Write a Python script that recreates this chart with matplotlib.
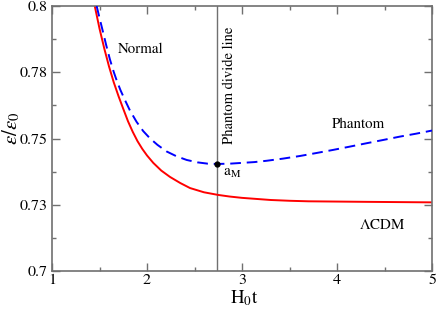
import matplotlib
matplotlib.use("Agg")
import matplotlib.pyplot as plt
from matplotlib.ticker import FixedLocator, MultipleLocator

# ---- data ----
lcdm_x = [1.45, 1.50, 1.55, 1.60, 1.65, 1.70, 1.75, 1.80, 1.85, 1.90, 1.95, 2.00,
          2.066, 2.15, 2.242, 2.35, 2.453, 2.60, 2.75, 2.87, 3.00, 3.15, 3.30,
          3.50, 3.70, 4.00, 4.30, 4.65, 5.00]
lcdm_y = [0.8000, 0.7915, 0.7840, 0.7772, 0.7712, 0.7660, 0.7612, 0.7565, 0.7525,
          0.7490, 0.7461, 0.7436, 0.7408, 0.7379, 0.7355, 0.7332, 0.7313, 0.7297,
          0.7287, 0.7281, 0.7276, 0.7272, 0.7268, 0.7265, 0.7263, 0.7262, 0.7261,
          0.7260, 0.7259]

model_x = [1.47, 1.50, 1.53, 1.57, 1.61, 1.65, 1.68, 1.72, 1.768, 1.82, 1.89, 1.96,
           2.03, 2.11, 2.207, 2.31, 2.418, 2.53, 2.64, 2.74, 2.87, 3.00, 3.13, 3.26,
           3.43, 3.61, 3.78, 3.96, 4.13, 4.31, 4.48, 4.66, 4.83, 5.00]
model_y = [0.8000, 0.7955, 0.7912, 0.7853, 0.7798, 0.7751, 0.7720, 0.7683, 0.7645,
           0.7606, 0.7563, 0.7528, 0.7501, 0.7476, 0.7451, 0.7433, 0.7419, 0.7410,
           0.7405, 0.7404, 0.7405, 0.7408, 0.7411, 0.7416, 0.7424, 0.7434, 0.7445,
           0.7457, 0.7469, 0.7482, 0.7494, 0.7507, 0.7518, 0.7530]

divide_x = 2.74
a_M = (2.74, 0.7404)

y_ticks = [0.7, 0.725, 0.75, 0.775, 0.8]
y_ticklabels = ["0.7", "0.73", "0.75", "0.78", "0.8"]
x_ticks = [1, 2, 3, 4, 5]
x_ticklabels = ["1", "2", "3", "4", "5"]

plt.rcParams['font.family'] = ['STIXGeneral', 'DejaVu Serif']
plt.rcParams['mathtext.fontset'] = 'stix'

fig = plt.figure(figsize=(4.36, 3.09), dpi=100)
ax = fig.add_axes([52/436, 38/309, 380/436, 265/309])

frame_col = '#707070'
ax.axvline(divide_x, color=frame_col, lw=1.0, zorder=1)
ax.plot(lcdm_x, lcdm_y, color='#ff0000', lw=1.4, zorder=2)
ax.plot(model_x, model_y, color='#0000ff', lw=1.4, dashes=(5.5, 3), zorder=3)
ax.plot([a_M[0]], [a_M[1]], 'o', color='black', ms=3.5, zorder=4)

ax.set_xlim(1, 5)
ax.set_ylim(0.7, 0.8)
ax.xaxis.set_major_locator(FixedLocator(x_ticks))
ax.set_xticklabels(x_ticklabels)
ax.xaxis.set_minor_locator(MultipleLocator(0.5))
ax.yaxis.set_major_locator(FixedLocator(y_ticks))
ax.set_yticklabels(y_ticklabels)
ax.yaxis.set_minor_locator(MultipleLocator(0.0125))

ax.tick_params(which='both', direction='in', top=True, right=True,
               color=frame_col, width=1.0, labelsize=11.5, labelcolor='black')
ax.tick_params(which='major', length=6, pad=3)
ax.tick_params(axis='x', which='major', pad=2)
ax.tick_params(which='minor', length=3)
for s in ax.spines.values():
    s.set_color(frame_col)
    s.set_linewidth(1.2)

ax.set_xlabel(r'H$_0$t', fontsize=13.5)
ax.xaxis.set_label_coords(0.505, -0.066)
ax.set_ylabel(r'$\varepsilon/\varepsilon_0$', fontsize=15)
ax.yaxis.set_label_coords(-0.078, 0.54)

ax.text(1.93, 0.7838, 'Normal', fontsize=10.8, ha='center', va='center')
ax.text(4.23, 0.7555, 'Phantom', fontsize=10.8, ha='center', va='center')
ax.text(4.48, 0.7174, r'$\Lambda$CDM', fontsize=10.8, ha='center', va='center')
ax.text(2.8, 0.7368, r'a$_\mathrm{M}$', fontsize=11, ha='left', va='center')
ax.text(2.868, 0.7702, 'Phantom divide line', fontsize=10.5, rotation=90,
        ha='center', va='center')

fig.savefig('out.png', dpi=100)
